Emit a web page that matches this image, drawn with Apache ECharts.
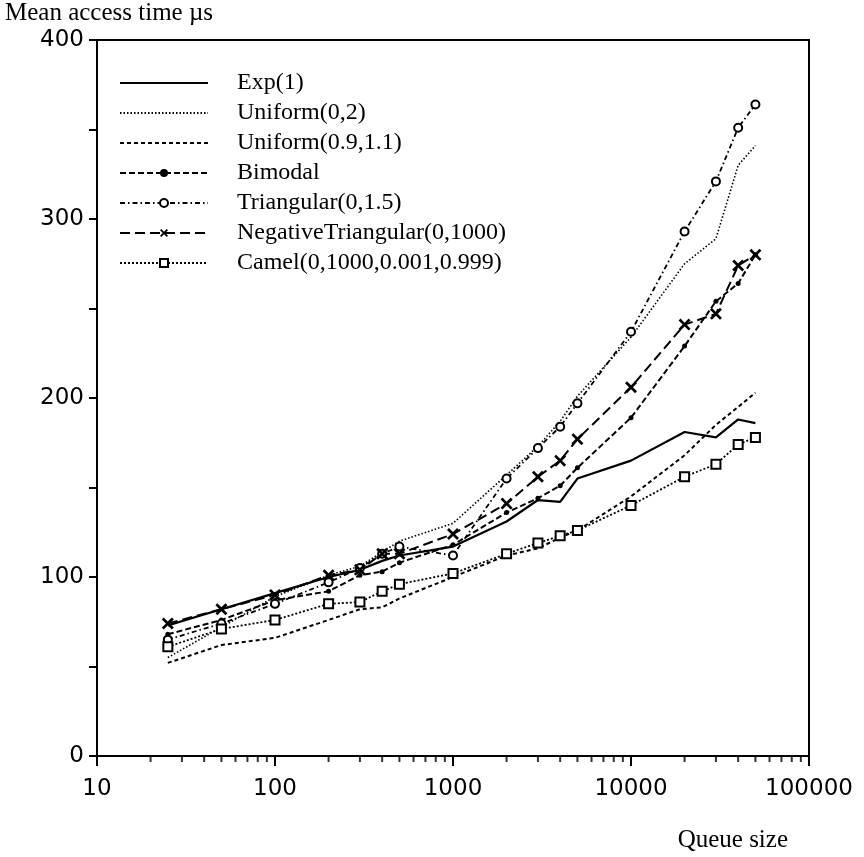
<!DOCTYPE html>
<html>
<head>
<meta charset="utf-8">
<script src="https://cdn.jsdelivr.net/npm/echarts@6/dist/echarts.min.js"></script>
<style>
  html, body { margin: 0; padding: 0; background: #fff; }
  #chart { width: 864px; height: 857px; }
</style>
</head>
<body>
<div id="chart"></div>
<script>
// queue sizes (x) and mean access time in microseconds (y)
var queueSizes = [25, 50, 100, 200, 300, 400, 500, 1000, 2000, 3000, 4000, 5000, 10000, 20000, 30000, 40000, 50000];

var exp1        = [73, 82, 91, 100, 104, 109, 112, 117, 131, 143, 142, 155, 165, 181, 178, 188, 186];
var uniform02   = [55, 72, 89, 101, 106, 114, 120, 130, 157, 173, 187, 201, 234, 275, 289, 330, 341];
var uniform0911 = [52, 62, 66, 76, 82, 83, 88, 100, 112, 116, 122, 126, 145, 168, 185, 195, 203];
var bimodal     = [68, 76, 87, 92, 101, 103, 108, 118, 136, 144, 151, 161, 189, 229, 254, 264, 280];
var triangular  = [65, 74, 85, 97, 105, 113, 117, 112, 155, 172, 184, 197, 237, 293, 321, 351, 364];
var negTri      = [74, 82, 90, 101, 104, 113, 113, 124, 141, 156, 165, 177, 206, 241, 247, 274, 280];
var camel       = [61, 71, 76, 85, 86, 92, 96, 102, 113, 119, 123, 126, 140, 156, 163, 174, 178];

var seriesNames = ['Exp(1)', 'Uniform(0,2)', 'Uniform(0.9,1.1)', 'Bimodal',
  'Triangular(0,1.5)', 'NegativeTriangular(0,1000)', 'Camel(0,1000,0.001,0.999)'];
// series drawn without markers (legend must not show a dot for them)
var plainSeries = ['Exp(1)', 'Uniform(0,2)', 'Uniform(0.9,1.1)'];

// minor ticks of the log axis (2..9 in every decade)
var minorTicks = [20, 30, 40, 50, 60, 70, 80, 90,
  200, 300, 400, 500, 600, 700, 800, 900,
  2000, 3000, 4000, 5000, 6000, 7000, 8000, 9000,
  20000, 30000, 40000, 50000, 60000, 70000, 80000, 90000];

var crossSymbol = 'path://M0,1.6L1.6,0L5,3.4L8.4,0L10,1.6L6.6,5L10,8.4L8.4,10L5,6.6L1.6,10L0,8.4L3.4,5Z';

function pairs(ys) {
  var out = [];
  for (var i = 0; i < queueSizes.length; i++) {
    out.push([queueSizes[i], ys[i]]);
  }
  return out;
}

function lineSeries(name, ys, dash, width, symbol, size, border) {
  return {
    name: name,
    type: 'line',
    data: pairs(ys),
    showSymbol: symbol !== 'none',
    symbol: symbol,
    symbolSize: size,
    lineStyle: { color: '#000', width: width, type: dash },
    itemStyle: { color: '#000', borderColor: '#000', borderWidth: border },
    emphasis: { disabled: true }
  };
}

var chart = echarts.init(document.getElementById('chart'));

var tickFont = { fontFamily: 'DejaVu Sans', fontSize: 23, color: '#000' };

var legendData = seriesNames.map(function (n) {
  if (plainSeries.indexOf(n) > -1) {
    return { name: n, itemStyle: { opacity: 0 } };
  }
  return { name: n };
});

var option = {
  animation: false,
  backgroundColor: '#fff',
  grid: {
    left: 97, right: 55, top: 40, bottom: 101,
    show: true, borderColor: '#000', borderWidth: 2
  },
  legend: {
    data: legendData,
    orient: 'vertical',
    left: 114,
    top: 66,
    itemWidth: 88,
    itemHeight: 10,
    itemGap: 6,
    textStyle: {
      fontFamily: 'Liberation Serif', fontSize: 24, lineHeight: 24,
      color: '#000', padding: [0, 0, 0, 24]
    }
  },
  xAxis: {
    type: 'log',
    logBase: 10,
    min: 10,
    max: 100000,
    axisLine: { lineStyle: { color: '#000', width: 2 } },
    axisTick: { length: 10, lineStyle: { color: '#000', width: 2 } },
    axisLabel: Object.assign({
      margin: 22,
      formatter: function (v) { return String(Math.round(v)); }
    }, tickFont),
    splitLine: { show: false }
  },
  yAxis: {
    type: 'value',
    min: 0,
    max: 400,
    interval: 100,
    axisLine: { show: true, lineStyle: { color: '#000', width: 2 } },
    axisTick: { show: true, length: 8, lineStyle: { color: '#000', width: 2 } },
    minorTick: { show: true, splitNumber: 2, length: 8, lineStyle: { color: '#000', width: 2 } },
    axisLabel: Object.assign({ margin: 13 }, tickFont),
    splitLine: { show: false }
  },
  graphic: [
    {
      type: 'text', left: 5, top: 1,
      style: { text: 'Mean access time µs', font: '25px "Liberation Serif"', fill: '#000' }
    },
    {
      type: 'text', right: 76, top: 828,
      style: { text: 'Queue size', font: '25px "Liberation Serif"', fill: '#000' }
    }
  ],
  series: [
    lineSeries(seriesNames[0], exp1, 'solid', 2.2, 'none', 0, 0),
    lineSeries(seriesNames[1], uniform02, [1.5, 2], 1.6, 'none', 0, 0),
    lineSeries(seriesNames[2], uniform0911, [4, 3], 2, 'none', 0, 0),
    lineSeries(seriesNames[3], bimodal, [6, 3], 2, 'circle', 5, 0),
    lineSeries(seriesNames[4], triangular, [5, 3, 1.5, 3], 1.8, 'emptyCircle', 8, 1.8),
    lineSeries(seriesNames[5], negTri, [10, 5], 2, crossSymbol, 12, 0),
    lineSeries(seriesNames[6], camel, [2, 2], 1.8, 'emptyRect', 9, 1.8),
    {
      name: 'minor',
      type: 'scatter',
      data: minorTicks.map(function (v) { return [v, 0]; }),
      symbol: 'rect',
      symbolSize: [2, 6],
      symbolOffset: [0, 3],
      clip: false,
      silent: true,
      itemStyle: { color: '#000' }
    }
  ]
};

chart.setOption(option);
</script>
</body>
</html>
